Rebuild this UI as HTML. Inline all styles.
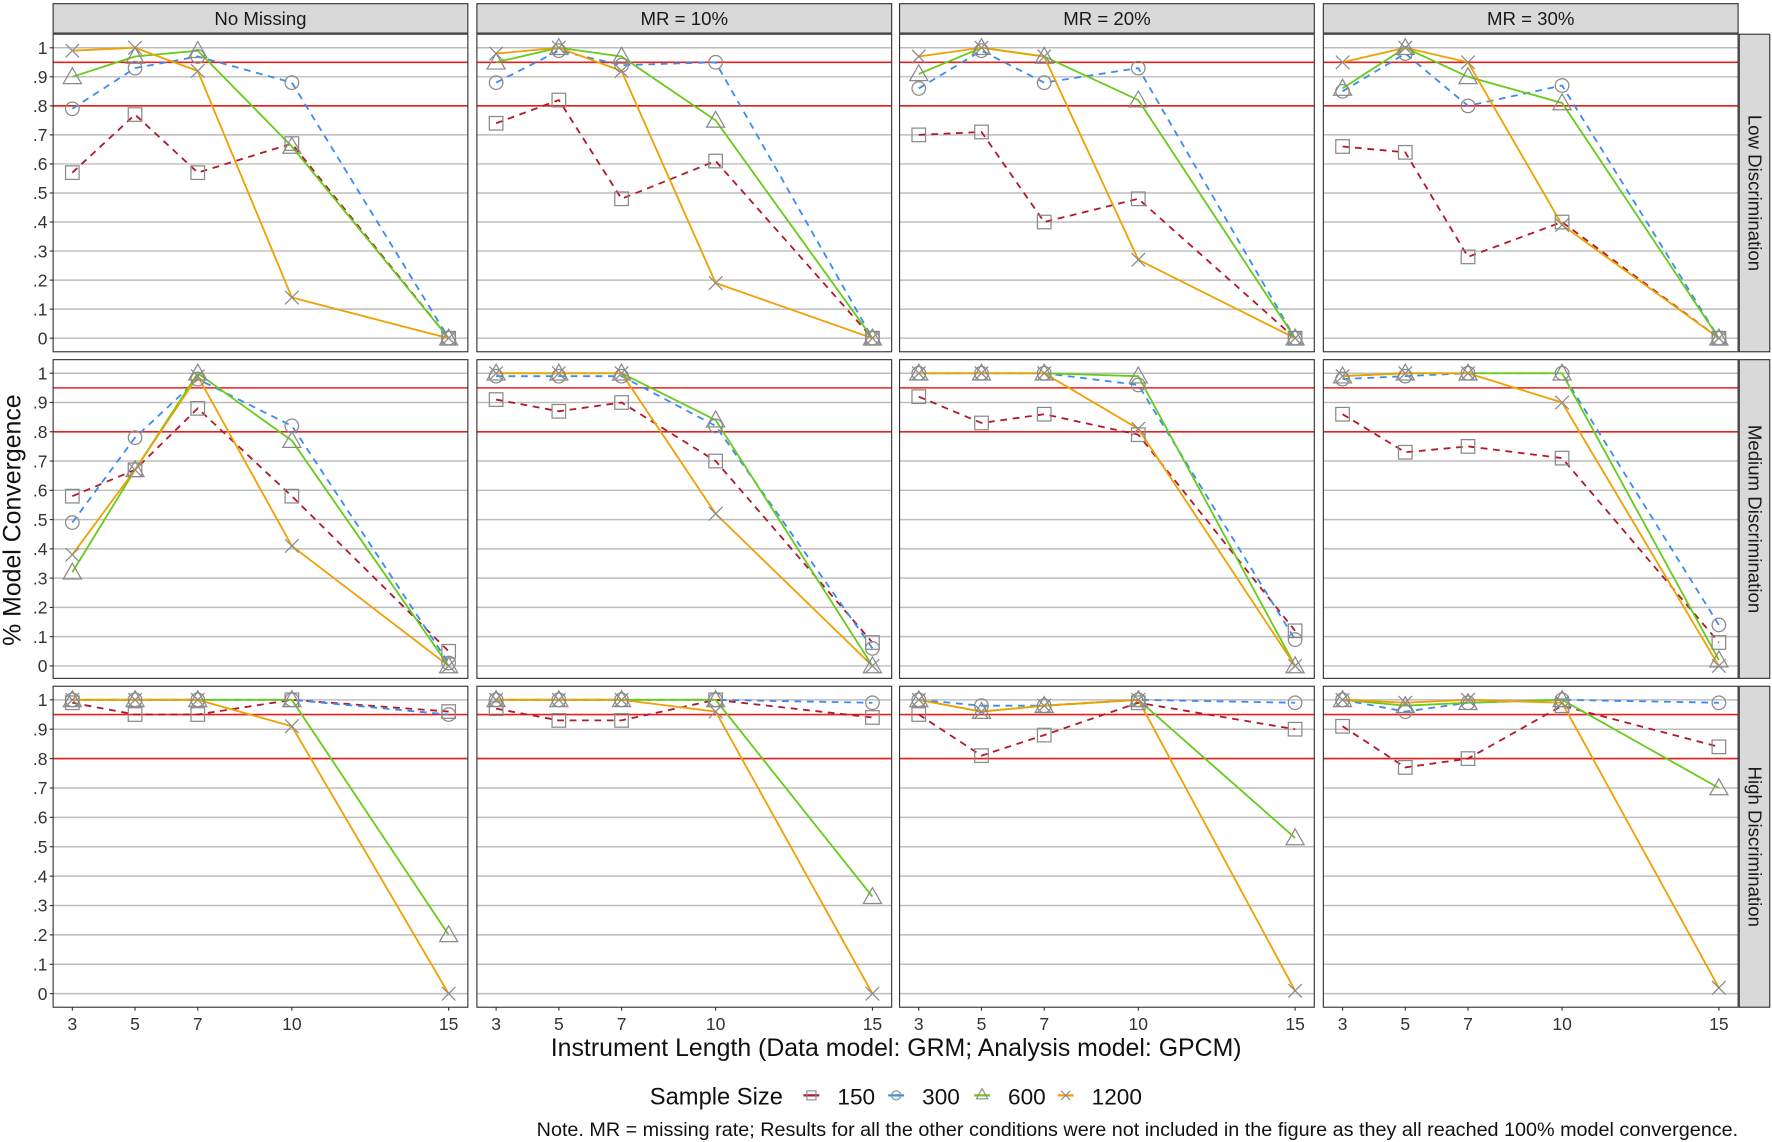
<!DOCTYPE html>
<html><head><meta charset="utf-8"><style>
html,body{margin:0;padding:0;background:#fff;}
svg{display:block;font-family:"Liberation Sans",Arial,sans-serif;}
</style></head><body>
<svg id="chart" xmlns="http://www.w3.org/2000/svg" width="1772" height="1142" viewBox="0 0 1568 1010"></svg>
<script>
const xCats = [3,5,7,10,15];
const colLabels = ["No Missing","MR = 10%","MR = 20%","MR = 30%"];
const rowLabels = ["Low Discrimination","Medium Discrimination","High Discrimination"];
const sizes = ["150","300","600","1200"];
const yTicks = [0,.1,.2,.3,.4,.5,.6,.7,.8,.9,1];
const yTickLabels = ["0",".1",".2",".3",".4",".5",".6",".7",".8",".9","1"];
const refLines = [0.95,0.8];
// data[row][col][size] = values at xCats
const low_nm = [[.57,.77,.57,.67,0],[.79,.93,.97,.88,0],[.90,.97,.99,.66,0],[.99,1,.92,.14,0]];
const low_10 = [[.74,.82,.48,.61,0],[.88,.99,.94,.95,0],[.95,1,.97,.75,0],[.98,1,.92,.19,0]];
const low_20 = [[.70,.71,.40,.48,0],[.86,.99,.88,.93,0],[.91,1,.97,.82,0],[.97,1,.97,.27,0]];
const low_30 = [[.66,.64,.28,.40,0],[.85,.98,.80,.87,0],[.86,1,.90,.81,0],[.95,1,.95,.39,0]];
const med_nm = [[.58,.67,.88,.58,.05],[.49,.78,.98,.82,.01],[.32,.67,1,.77,0],[.38,.67,.99,.41,0]];
const med_10 = [[.91,.87,.90,.70,.08],[.99,.99,.99,.82,.06],[1,1,1,.84,0],[1,1,1,.52,0]];
const med_20 = [[.92,.83,.86,.79,.12],[1,1,1,.96,.09],[1,1,1,.99,0],[1,1,1,.81,0]];
const med_30 = [[.86,.73,.75,.71,.08],[.98,.99,1,1,.14],[.99,1,1,1,.02],[.99,1,1,.90,0]];
const high_nm = [[.99,.95,.95,1,.96],[1,1,1,1,.95],[1,1,1,1,.20],[1,1,1,.91,0]];
const high_10 = [[.97,.93,.93,1,.94],[1,1,1,1,.99],[1,1,1,1,.33],[1,1,1,.96,0]];
const high_20 = [[.95,.81,.88,.99,.90],[1,.98,.98,1,.99],[1,.96,.98,1,.53],[1,.96,.98,1,.01]];
const high_30 = [[.91,.77,.80,.98,.84],[1,.96,.99,1,.99],[1,.98,.99,1,.70],[1,.99,1,.99,.02]];
const data = [[low_nm,low_10,low_20,low_30],[med_nm,med_10,med_20,med_30],[high_nm,high_10,high_20,high_30]];

const NS="http://www.w3.org/2000/svg";
const svg=document.getElementById('chart');
function el(tag,attrs,parent){const e=document.createElementNS(NS,tag);for(const k in attrs)e.setAttribute(k,attrs[k]);(parent||svg).appendChild(e);return e;}
const colors=["#b2182b","#3a8cf0","#66cc1a","#f0a000"];
const dashes=["6,5","6,5","",""];
const colX=[47,422,796,1171], panelW=367;
const rowY=[30,318,607], panelH=[281,282,284];
function xScale(c,v){return colX[c]+17+(v-3)*27.75;}
function yScale(r,v){const top=rowY[r]+12, bot=rowY[r]+269+ (r==2?3:(r==1?2:0));return bot-(bot-top)*v;}

function marker(type,x,y,g){
  const s="#8a8a8a";
  if(type==0){const m=el('rect',{x:x-6,y:y-6,width:12,height:12,fill:'none',stroke:s,'stroke-width':1.1},g);}
  else if(type==1){const m=el('circle',{cx:x,cy:y,r:6,fill:'none',stroke:s,'stroke-width':1.1},g);}
  else if(type==2){const m=el('polygon',{points:`${x},${y-8} ${x-8},${y+6} ${x+8},${y+6}`,fill:'none',stroke:s,'stroke-width':1.1},g);}
  else {const m=el('path',{d:`M${x-6},${y-6}L${x+6},${y+6}M${x-6},${y+6}L${x+6},${y-6}`,stroke:s,'stroke-width':1.1},g);}
}

colLabels.forEach((lab,c)=>{
  const g=el('g',{});
  
  
  el('rect',{x:colX[c],y:3,width:panelW,height:26,fill:'#d9d9d9',stroke:'#333','stroke-width':1},g);
  const t=el('text',{x:colX[c]+panelW/2,y:22,'text-anchor':'middle','font-size':16.5,fill:'#1a1a1a'},g);t.textContent=lab;
});
rowLabels.forEach((lab,r)=>{
  const g=el('g',{});
  
  
  el('rect',{x:1539,y:rowY[r],width:27,height:panelH[r],fill:'#d9d9d9',stroke:'#333','stroke-width':1},g);
  const cy=rowY[r]+panelH[r]/2;
  const t=el('text',{x:1547,y:cy,'text-anchor':'middle','font-size':16.5,fill:'#1a1a1a',transform:`rotate(90 1547 ${cy})`},g);t.textContent=lab;
});

for(let r=0;r<3;r++){
  for(let c=0;c<4;c++){
    const g=el('g',{});
    
    
    el('rect',{x:colX[c],y:rowY[r],width:panelW,height:panelH[r],fill:'#fff'},g);
    yTicks.forEach(v=>{const y=yScale(r,v);el('line',{x1:colX[c],x2:colX[c]+panelW,y1:y,y2:y,stroke:'#bdbdbd','stroke-width':1.3},g);});
    refLines.forEach(v=>{const y=yScale(r,v);const l=el('line',{x1:colX[c],x2:colX[c]+panelW,y1:y,y2:y,stroke:'#e8201c','stroke-width':1.4},g);});
    for(let s=0;s<4;s++){
      const vals=data[r][c][s];
      const pts=vals.map((v,i)=>xScale(c,xCats[i])+','+yScale(r,v)).join(' ');
      const pl=el('polyline',{points:pts,fill:'none',stroke:colors[s],'stroke-width':1.6,'stroke-dasharray':dashes[s]},g);
      
      
    }
    for(let s=0;s<4;s++){
      data[r][c][s].forEach((v,i)=>marker(s,xScale(c,xCats[i]),yScale(r,v),g));
    }
    el('rect',{x:colX[c],y:rowY[r],width:panelW,height:panelH[r],fill:'none',stroke:'#333','stroke-width':1},g);
    if(c==0){
      yTicks.forEach((v,i)=>{const y=yScale(r,v);el('line',{x1:colX[c]-3,x2:colX[c],y1:y,y2:y,stroke:'#333'},g);
        const t=el('text',{x:colX[c]-5,y:y+5.5,'text-anchor':'end','font-size':15.5,fill:'#333'},g);t.textContent=yTickLabels[i];
        });
    }
    if(r==2){
      xCats.forEach(v=>{const x=xScale(c,v),yb=rowY[r]+panelH[r];el('line',{x1:x,x2:x,y1:yb,y2:yb+3,stroke:'#333'},g);
        const t=el('text',{x:x,y:yb+20,'text-anchor':'middle','font-size':15.5,fill:'#333'},g);t.textContent=v;
        });
    }
  }
}
let t=el('text',{x:793,y:934,'text-anchor':'middle','font-size':22,fill:'#111'});t.textContent="Instrument Length (Data model: GRM; Analysis model: GPCM)";

t=el('text',{x:18,y:460,'text-anchor':'middle','font-size':22,fill:'#111',transform:'rotate(-90 18 460)'});t.textContent="% Model Convergence";

const lg=el('g',{});


t=el('text',{x:575,y:977,'font-size':21,fill:'#111'},lg);t.textContent="Sample Size";
const legX=[718,793,869,943];
sizes.forEach((s,i)=>{
  const eg=el('g',{},lg);
  
  
  el('line',{x1:legX[i]-7,x2:legX[i]+7,y1:969,y2:969,stroke:colors[i],'stroke-width':2},eg);
  const x=legX[i],y=969,st="#8a8a8a";
  if(i==0)el('rect',{x:x-4,y:y-4,width:8,height:8,fill:'none',stroke:st},eg);
  else if(i==1)el('circle',{cx:x,cy:y,r:4,fill:'none',stroke:st},eg);
  else if(i==2)el('polygon',{points:`${x},${y-6} ${x-5},${y+3} ${x+5},${y+3}`,fill:'none',stroke:st},eg);
  else el('path',{d:`M${x-4},${y-4}L${x+4},${y+4}M${x-4},${y+4}L${x+4},${y-4}`,stroke:st},eg);
  const tt=el('text',{x:x+23,y:977,'font-size':20,fill:'#111'},eg);tt.textContent=s;
});
t=el('text',{x:1538,y:1005,'text-anchor':'end','font-size':17.5,fill:'#111'});t.textContent="Note. MR = missing rate; Results for all the other conditions were not included in the figure as they all reached 100% model convergence.";

</script>
</body></html>
